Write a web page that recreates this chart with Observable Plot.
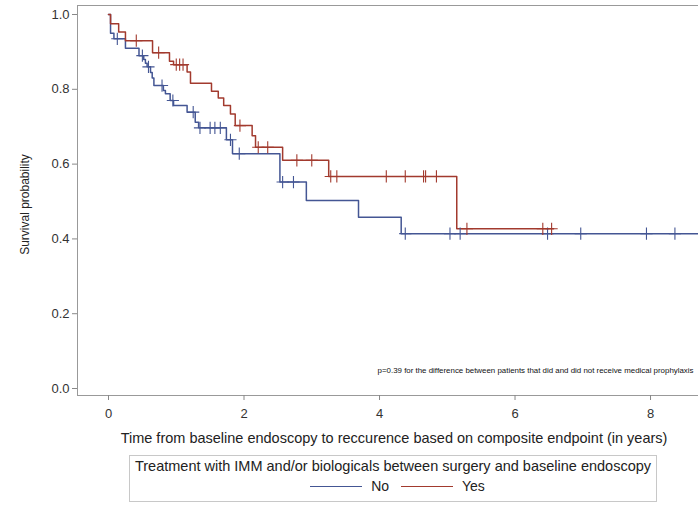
<!DOCTYPE html>
<html>
<head>
<meta charset="utf-8">
<script src="https://cdn.jsdelivr.net/npm/d3@7"></script>
<script src="https://cdn.jsdelivr.net/npm/@observablehq/plot@0.6"></script>
<style>
  html, body { margin: 0; padding: 0; background: #fff; }
  body { width: 698px; height: 516px; position: relative; overflow: hidden; font-family: "Liberation Sans", Arial, sans-serif; }
  #chart svg { display: block; }
  #legend { position: absolute; left: 129px; top: 455px; width: 528px; height: 47px; border: 1px solid #c8c8c8; box-sizing: border-box; color: #222; text-align: center; }
  #legend .title { font-size: 14.5px; margin-top: 2px; line-height: 17px; white-space: nowrap; }
  #legend .items { font-size: 14px; margin-top: 3px; line-height: 17px; display: flex; justify-content: center; align-items: center; }
  #legend .sw { display: inline-block; width: 52px; height: 0; border-top: 1.5px solid; margin: 0 9px 0 9px; }
</style>
</head>
<body>
<div id="chart"></div>
<div id="legend">
  <div class="title">Treatment with IMM and/or biologicals between surgery and baseline endoscopy</div>
  <div class="items"><span class="sw" style="border-color:#445694"></span><span>No</span><span class="sw" style="border-color:#A23A2E;margin-left:12px"></span><span>Yes</span></div>
</div>
<script>
// ---- Data ----
const groups = ["No", "Yes"];
const colors = ["#445694", "#A23A2E"];

const noTime = [0, 0.03, 0.08, 0.25, 0.45, 0.52, 0.545, 0.57, 0.62, 0.645, 0.67, 0.81, 0.84, 0.91, 0.96, 1.16, 1.28, 1.33, 1.74, 1.83, 2.53, 2.92, 3.69, 4.32];
const noSurv = [1.0, 0.95, 0.935, 0.91, 0.89, 0.88, 0.87, 0.86, 0.845, 0.83, 0.81, 0.797, 0.788, 0.77, 0.757, 0.739, 0.712, 0.697, 0.665, 0.628, 0.552, 0.503, 0.458, 0.414];
const noCensor = [0.13, 0.50, 0.59, 0.79, 0.95, 1.25, 1.35, 1.50, 1.57, 1.65, 1.80, 1.93, 2.57, 2.73, 4.38, 5.04, 5.19, 6.48, 6.97, 7.94, 8.36];
const noEnd = 8.75;

const yesTime = [0, 0.03, 0.15, 0.25, 0.65, 0.90, 0.96, 1.16, 1.21, 1.52, 1.62, 1.70, 1.80, 1.87, 2.12, 2.17, 2.57, 3.25, 5.14];
const yesSurv = [1.0, 0.975, 0.953, 0.93, 0.898, 0.875, 0.866, 0.846, 0.816, 0.795, 0.777, 0.757, 0.734, 0.703, 0.676, 0.645, 0.61, 0.567, 0.427];
const yesCensor = [0.41, 0.74, 1.0, 1.05, 1.10, 1.94, 2.21, 2.35, 2.78, 3.0, 3.28, 3.37, 4.10, 4.38, 4.65, 4.68, 4.84, 5.29, 6.41, 6.54];
const yesEnd = 6.57;

const xTicks = [0, 2, 4, 6, 8];
const yTicks = [0, 0.2, 0.4, 0.6, 0.8, 1.0];
const xLabel = "Time from baseline endoscopy to reccurence based on composite endpoint (in years)";
const yLabel = "Survival probability";
const pNote = "p=0.39 for the difference between patients that did and did not receive medical prophylaxis";

// ---- Build tables ----
function curve(group, times, surv, end) {
  const rows = times.map((t, i) => ({group, t, s: surv[i]}));
  rows.push({group, t: end, s: surv[surv.length - 1]});
  return rows;
}
function levelAt(times, surv, t) {
  let v = surv[0];
  for (let i = 0; i < times.length; i++) if (times[i] <= t) v = surv[i];
  return v;
}
const lines = [...curve("No", noTime, noSurv, noEnd), ...curve("Yes", yesTime, yesSurv, yesEnd)];
const censors = [
  ...noCensor.map(t => ({group: "No", t, s: levelAt(noTime, noSurv, t)})),
  ...yesCensor.map(t => ({group: "Yes", t, s: levelAt(yesTime, yesSurv, t)}))
];

const xDom = [-0.4576, 8.708];
const yDom = [-0.0187, 1.0241];

const chart = Plot.plot({
  width: 698, height: 452,
  marginLeft: 77, marginRight: 0, marginTop: 5, marginBottom: 57,
  x: {domain: xDom},
  y: {domain: yDom},
  color: {domain: groups, range: colors},
  style: {fontFamily: "Liberation Sans, Arial, sans-serif", fontSize: "13px", color: "#333", background: "#fff"},
  marks: [
    Plot.ruleX([xDom[0]], {stroke: "#999"}),
    Plot.ruleY([yDom[0], yDom[1]], {stroke: "#999"}),
    Plot.axisY({ticks: yTicks, tickFormat: d => d.toFixed(1), tickSize: 5, tickPadding: 3, label: null, stroke: "#888", fill: "#333", fontSize: 13}),
    Plot.axisX({ticks: xTicks, tickSize: 5, tickPadding: 8, label: null, stroke: "#888", fill: "#333", fontSize: 13}),
    Plot.line(lines, {x: "t", y: "s", z: "group", stroke: "group", curve: "step-after", strokeWidth: 1.5, clip: true}),
    Plot.dot(censors, {x: "t", y: "s", stroke: "group", symbol: "plus", r: 4, strokeWidth: 1.1}),
    Plot.text([yLabel], {text: d => d, frameAnchor: "left", textAnchor: "middle", rotate: -90, dx: -52, dy: 4, fontSize: 12, fill: "#222"}),
    Plot.text([xLabel], {text: d => d, frameAnchor: "bottom", textAnchor: "middle", dy: 47, dx: 6, fontSize: 14.5, fill: "#222"}),
    Plot.text([pNote], {text: d => d, frameAnchor: "bottom-right", textAnchor: "end", dx: -5, dy: -23, fontSize: 7.9, fill: "#111"})
  ]
});
document.getElementById("chart").appendChild(chart);
</script>
</body>
</html>
